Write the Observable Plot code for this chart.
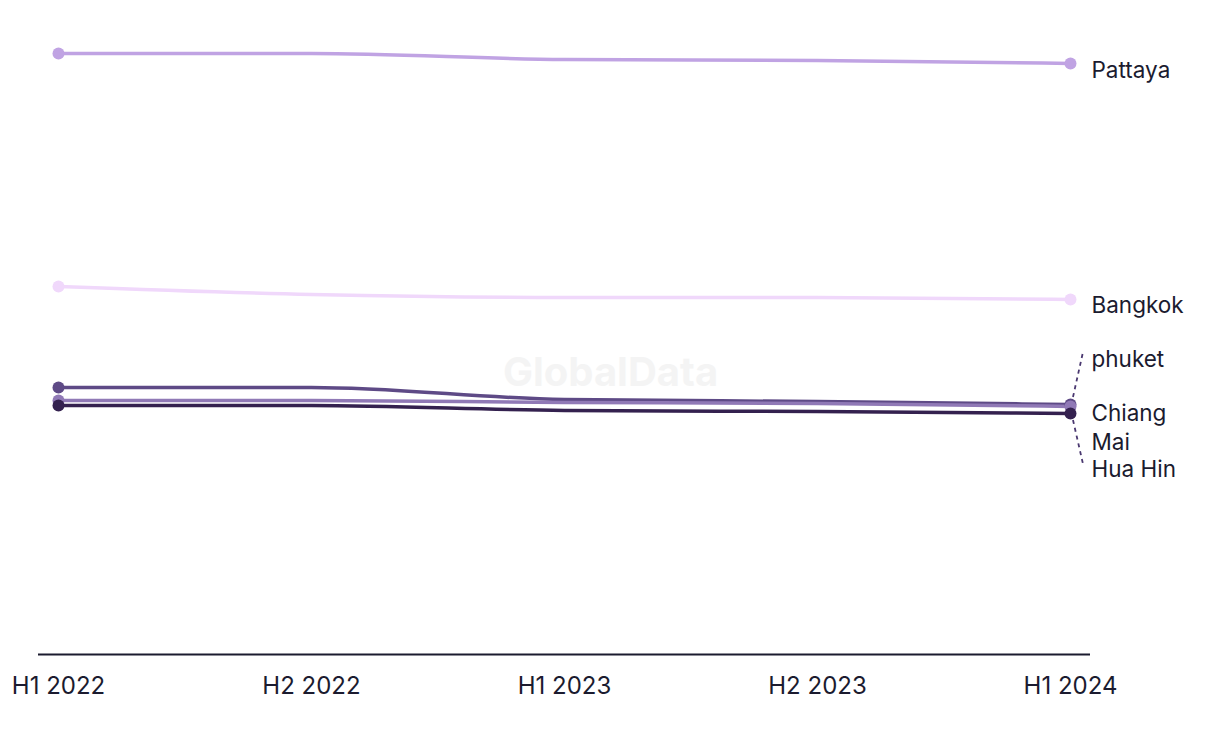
<!DOCTYPE html>
<html>
<head>
<meta charset="utf-8">
<script src="https://cdn.jsdelivr.net/npm/d3@7"></script>
<script src="https://cdn.jsdelivr.net/npm/@observablehq/plot@0.6"></script>
<style>
  body { margin: 0; background: #fff; }
  #chart { width: 1220px; height: 744px; }
</style>
</head>
<body>
<div id="chart"></div>
<script>
const periods = ["H1 2022", "H2 2022", "H1 2023", "H2 2023", "H1 2024"];
const cities = ["Pattaya", "Bangkok", "phuket", "Chiang Mai", "Hua Hin"];
const pattaya   = [60.1, 60.1, 59.5, 59.4, 59.1];
const bangkok   = [36.8, 36.0, 35.7, 35.7, 35.5];
const phuket    = [26.7, 26.7, 25.5, 25.3, 25.0];
const chiangMai = [25.4, 25.4, 25.2, 25.1, 24.8];
const huaHin    = [24.9, 24.9, 24.4, 24.3, 24.1];
const labelLines = [["Pattaya"], ["Bangkok"], ["phuket"], ["Chiang", "Mai"], ["Hua Hin"]];

const colors = ["#c0a3e3", "#f0d8fb", "#5e4a86", "#9079b6", "#34214f"];
const seriesValues = [pattaya, bangkok, phuket, chiangMai, huaHin];

const rows = [];
cities.forEach((c, i) => periods.forEach((p, j) => rows.push({city: c, period: p, value: seriesValues[i][j]})));
const lastP = periods[periods.length - 1];
const ends = cities.map((c, i) => ({city: c, period: lastP, value: seriesValues[i][periods.length - 1], lines: labelLines[i]}));

const height = 744, marginTop = 20, marginBottom = 90;
const yDomain = [0, 63.4];
const pxPerUnit = (height - marginBottom - marginTop) / (yDomain[1] - yDomain[0]);

// label offsets (pixels) used to pull crowded labels apart
const labelNudge = {"Pattaya": 7, "Bangkok": 6, "phuket": -45, "Chiang Mai": 7, "Hua Hin": 56};
const lineGap = 29;
const labelRows = [];
ends.forEach(e => {
  e.lines.forEach((t, k) => labelRows.push({
    city: e.city, period: e.period, text: t,
    labelValue: e.value - (labelNudge[e.city] + k * lineGap) / pxPerUnit
  }));
});
const leaders = ends.filter(e => Math.abs(labelNudge[e.city]) > 20);

const leaderMark = (index, scales, values, dims) => {
  const g = d3.create("svg:g").attr("fill", "none").attr("stroke", "#4a3870")
    .attr("stroke-width", 1.8).attr("stroke-dasharray", "4,4");
  leaders.forEach(e => {
    const x = scales.x(e.period), y = scales.y(e.value);
    const s = Math.sign(labelNudge[e.city]);
    const ey = y + labelNudge[e.city] + (s < 0 ? -7 : -5);
    g.append("path").attr("d", `M${x + 3},${y + s * 7}L${x + 13},${ey}`);
  });
  return g.node();
};

const plot = Plot.plot({
  width: 1220,
  height,
  marginLeft: 38,
  marginRight: 130,
  marginTop,
  marginBottom,
  style: {fontFamily: "Inter, 'Liberation Sans', sans-serif", color: "#1b1b2f", background: "#fff"},
  x: {type: "point", domain: periods, padding: 0.077, label: null},
  y: {domain: yDomain, axis: null},
  color: {domain: cities, range: colors},
  marks: [
    Plot.text(["GlobalData"], {frameAnchor: "middle", dx: 46, dy: 36, fontSize: 40, fontWeight: 700, fill: "#f4f4f4"}),
    Plot.ruleY([0], {stroke: "#1b1b2f", strokeWidth: 2}),
    Plot.axisX({tickSize: 0, tickPadding: 22, fontSize: 24, fill: "#1b1b2f"}),
    ...cities.map((c, i) => Plot.lineY(rows.filter(r => r.city === c), {x: "period", y: "value", stroke: colors[i], strokeWidth: 3.5, curve: "monotone-x"})),
    Plot.dot(rows.filter(r => r.period === periods[0]), {x: "period", y: "value", fill: "city", r: 6}),
    Plot.dot(ends, {x: "period", y: "value", fill: "city", r: 6}),
    Plot.dot([0], {x: () => lastP, y: () => 0, r: 0, render: leaderMark}),
    Plot.text(labelRows, {x: "period", y: "labelValue", text: "text", dx: 21, textAnchor: "start", fontSize: 22.5, fill: "#1b1b2f"})
  ]
});
document.getElementById("chart").appendChild(plot);
</script>
</body>
</html>
